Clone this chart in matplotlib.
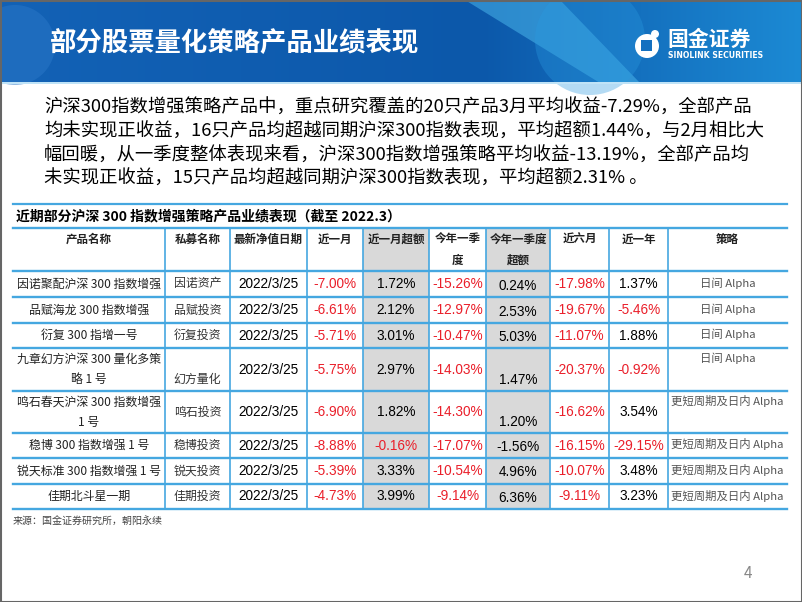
import numpy as np
import matplotlib.pyplot as plt
from matplotlib.patches import Rectangle, Polygon, Circle

plt.rcParams['font.family'] = ['Noto Sans CJK SC', 'DejaVu Sans']

# slide texts
title = '部分股票量化策略产品业绩表现'
para = ['沪深300指数增强策略产品中，重点研究覆盖的20只产品3月平均收益-7.29%，全部产品',
        '均未实现正收益，16只产品均超越同期沪深300指数表现，平均超额1.44%，与2月相比大',
        '幅回暖，从一季度整体表现来看，沪深300指数增强策略平均收益-13.19%，全部产品均',
        '未实现正收益，15只产品均超越同期沪深300指数表现，平均超额2.31% 。']
table_title = '近期部分沪深 300 指数增强策略产品业绩表现（截至 2022.3）'
source = '来源：国金证券研究所，朝阳永续'

# table data
headers = ['产品名称', '私募名称', '最新净值日期', '近一月', '近一月超额',
           '今年一季\n度', '今年一季度\n超额', '近六月', '近一年', '策略']
products = ['因诺聚配沪深 300 指数增强', '品赋海龙 300 指数增强', '衍复 300 指增一号',
            '九章幻方沪深 300 量化多策\n略 1 号', '鸣石春天沪深 300 指数增强\n1 号',
            '稳博 300 指数增强 1 号', '锐天标准 300 指数增强 1 号', '佳期北斗星一期']
managers = ['因诺资产', '品赋投资', '衍复投资', '幻方量化', '鸣石投资', '稳博投资', '锐天投资', '佳期投资']
dates = ['2022/3/25'] * 8
ret_1m = [-7.00, -6.61, -5.71, -5.75, -6.90, -8.88, -5.39, -4.73]
exc_1m = [1.72, 2.12, 3.01, 2.97, 1.82, -0.16, 3.33, 3.99]
ret_q1 = [-15.26, -12.97, -10.47, -14.03, -14.30, -17.07, -10.54, -9.14]
exc_q1 = [0.24, 2.53, 5.03, 1.47, 1.20, -1.56, 4.96, 6.36]
ret_6m = [-17.98, -19.67, -11.07, -20.37, -16.62, -16.15, -10.07, -9.11]
ret_1y = [1.37, -5.46, 1.88, -0.92, 3.54, -29.15, 3.48, 3.23]
strategy = ['日间 Alpha'] * 4 + ['更短周期及日内 Alpha'] * 4

# layout (pixels)
col_x = [13, 165, 230, 307, 363, 429, 486, 550, 609, 668, 787]
row_y = [228, 271, 297, 323, 348, 391, 433, 458, 484, 509]
grey_cols = [4, 6]
line_c = '#45a7e0'
red = '#ea1f2a'

fig = plt.figure(figsize=(8.02, 6.02), dpi=100)
ax = fig.add_axes([0, 0, 1, 1])
ax.set_xlim(0, 802)
ax.set_ylim(602, 0)
ax.axis('off')

# banner
xs = np.linspace(0, 1, 802)
c0 = np.array([0x13, 0x62, 0xb6]) / 255
c1 = np.array([0x0c, 0x58, 0xaa]) / 255
c2 = np.array([0x1c, 0x8a, 0xd4]) / 255
grad = np.where(xs[:, None] < 0.6, c0 + (c1 - c0) * (xs[:, None] / 0.6),
                c1 + (c2 - c1) * ((xs[:, None] - 0.6) / 0.4))
img = np.repeat(grad[None, :, :], 83, axis=0)
ax.imshow(img, extent=[0, 802, 83, 0], aspect='auto', zorder=0)
ax.add_patch(Polygon([[465, 0], [560, 0], [640, 83], [600, 83]], closed=True,
                     color='#49b4ea', alpha=0.55, lw=0, zorder=1))
ax.add_patch(Circle((15, 45), 40, color='#2b78c8', alpha=0.5, lw=0, zorder=1))
ax.add_patch(Circle((590, 40), 55, color='#2a9ae0', alpha=0.35, lw=0, zorder=1))
ax.add_patch(Rectangle((0, 82), 802, 2, color='#bfe3f7', lw=0, zorder=1))
ax.set_xlim(0, 802)
ax.set_ylim(602, 0)
ax.text(50, 44, title, color='white', fontsize=19, fontweight='bold', va='center', ha='left', zorder=3)

# logo
ax.add_patch(Circle((647, 46), 12, color='white', lw=0, zorder=3))
ax.add_patch(Rectangle((641, 40), 11, 11, color='#1470c0', lw=0, zorder=4))
ax.add_patch(Circle((655, 34), 4, color='white', lw=0, zorder=4))
ax.text(667, 39, '国金证券', color='white', fontsize=15, fontweight='bold', va='center', ha='left', zorder=3)
ax.text(668, 55, 'SINOLINK SECURITIES', color='white', fontsize=5.6, fontweight='bold',
        va='center', ha='left', family='DejaVu Sans', zorder=3)

# paragraph
for i, line in enumerate(para):
    ax.text(44, 108 + i * 23.6, line, fontsize=13.2, color='black', va='center', ha='left')

# table title + top line
ax.plot([col_x[0], col_x[-1]], [204, 204], color=line_c, lw=1.6)
ax.text(16, 216, table_title, fontsize=10, fontweight='bold', style='italic', va='center', ha='left')

# grey columns
for c in grey_cols:
    ax.add_patch(Rectangle((col_x[c], row_y[0]), col_x[c + 1] - col_x[c], row_y[-1] - row_y[0],
                           color='#d9d9d9', lw=0, zorder=0.5))

for y in row_y:
    ax.plot([col_x[0], col_x[-1]], [y, y], color=line_c, lw=1.7, zorder=2)
for x in col_x[1:-1]:
    ax.plot([x, x], [row_y[0], row_y[-1]], color=line_c, lw=1.2, zorder=2)

# header
for j, h in enumerate(headers):
    cx = (col_x[j] + col_x[j + 1]) / 2
    ax.text(cx, 233, h, fontsize=8.3, fontweight='bold', color='#222222', va='top', ha='center',
            linespacing=1.75)


def pct(v):
    return '%.2f%%' % v


num_cols = [ret_1m, exc_1m, ret_q1, exc_q1, ret_6m, ret_1y]
for i in range(8):
    top, bot = row_y[i + 1], row_y[i + 2]
    mid = (top + bot) / 2
    tall = (bot - top) > 35
    cxs = [(col_x[j] + col_x[j + 1]) / 2 for j in range(10)]
    ax.text(cxs[0], mid, products[i], fontsize=8.6, color='#222222', va='center', ha='center', linespacing=1.75)
    ax.text(cxs[1], bot - 12 if i == 3 else mid, managers[i], fontsize=8.6, color='#333333',
            va='center', ha='center')
    ax.text(cxs[2], mid, dates[i], fontsize=9.8, family='Liberation Sans', va='center', ha='center')
    for k, vals in enumerate(num_cols):
        j = k + 3
        v = vals[i]
        col = red if (v < 0 and j != 6) else 'black'
        y = mid + 1.5 if j == 6 else mid
        if j == 6 and tall:
            y = bot - 11
        ax.text(cxs[j], y, pct(v), fontsize=9.8, family='Liberation Sans', color=col,
                va='center', ha='center')
    ax.text(cxs[9], top + 10 if tall else mid - 1, strategy[i], fontsize=8.2, color='#555555',
            va='center', ha='center')

ax.text(13, 522, source, fontsize=7.2, color='#444444', va='center', ha='left')
ax.text(748, 573, '4', fontsize=11, color='#888888', va='center', ha='center')

# slide frame
ax.add_patch(Rectangle((0.5, 0.5), 801, 601, fill=False, edgecolor='#666666', lw=1.5, zorder=5))

fig.savefig('out.png', dpi=100)
